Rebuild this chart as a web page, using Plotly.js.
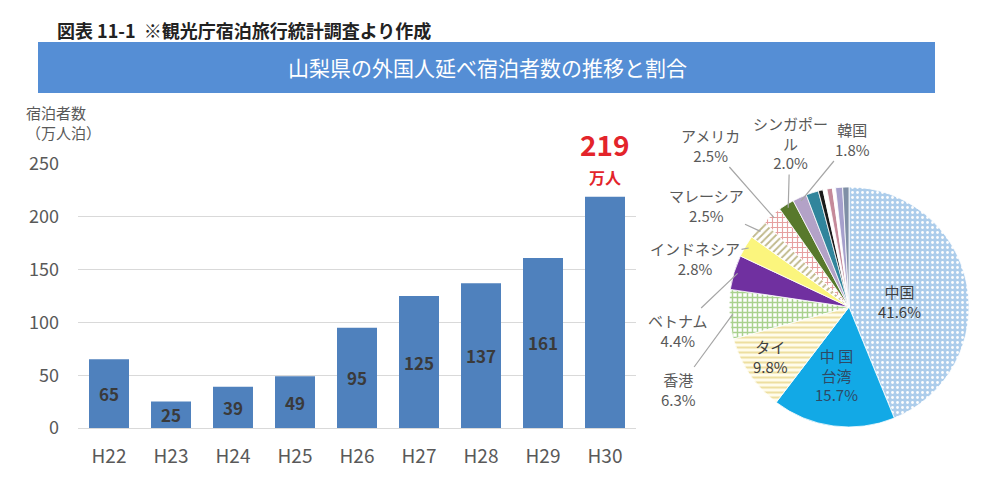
<!DOCTYPE html>
<html><head><meta charset="utf-8">
<script src="https://cdn.plot.ly/plotly-3.0.1.min.js"></script>
<style>html,body{margin:0;padding:0;background:#fff}#chart{width:1000px;height:479px}</style>
</head><body><div id="chart"></div>
<script>
// ---- data ----
const years = ['H22','H23','H24','H25','H26','H27','H28','H29','H30'];
const guests = [65,25,39,49,95,125,137,161,219];

const countries = ['中国','中国台湾','タイ','香港','ベトナム','インドネシア','マレーシア','アメリカ','シンガポール','韓国','その他a','その他b','その他c','その他d','その他e','その他f','その他g'];
const shares = [41.6,15.7,9.8,6.3,4.4,2.8,2.5,2.5,2.0,1.8,1.6,0.6,0.5,0.7,0.4,0.9,0.8];
const displayNames = ['中国','中 国<br>台湾','タイ','香港','ベトナム','インドネシア','マレーシア','アメリカ','シンガポー<br>ル','韓国'];

// ---- layout constants ----
const W = 1000, H = 479;
const FONT = '"Noto Sans CJK JP", "Noto Sans", sans-serif';
const PIE_CX = 849, PIE_CY = 307, PIE_R = 120;
const px2x = p => p / W, px2y = p => 1 - p / H;

const sliceColors = ['#ADCDEB','#12A9E6','#FFFCEB','#FFFFFF','#7030A0','#FBF57D','#FFFFFF','#FFFFFF','#58792C','#B3A2C7','#31859C','#1A1A1A','#FFFFFF','#C58A9A','#FFFFFF','#A6A0CC','#7F8FA6'];
const patShapes = ['.','','-','+','','','/','+','','','','','','','','',''];
const patFg = ['#FFFFFF','','#EDDFA0','#A9D18E','','','#BFB88A','#E6A0A0','','','','','','','','',''];
const patSolidity = [0.25,0.3,0.4,0.5,0.3,0.3,0.35,0.4,0.3,0.3,0.3,0.3,0.3,0.3,0.3,0.3,0.3];

const barTrace = {
  type:'bar', x: years, y: guests,
  marker:{color:'#4F81BD'},
  text: guests.map((v,i)=> i===guests.length-1 ? '' : '<b>'+v+'</b>'),
  textposition:'inside', insidetextanchor:'middle', textangle:0, constraintext:'none',
  textfont:{family:FONT, size:17, color:'#3A3A3A'},
  xaxis:'x', yaxis:'y', hoverinfo:'skip', cliponaxis:false
};

const pieTrace = {
  type:'pie', labels: countries, values: shares, sort:false, direction:'clockwise', rotation:0,
  textinfo:'none', hoverinfo:'skip', showlegend:false,
  marker:{colors: sliceColors, line:{color:'#FFFFFF', width:0.8},
    pattern:{shape: patShapes, fgcolor: patFg, bgcolor: sliceColors, size:5, solidity: patSolidity}},
  domain:{x:[px2x(PIE_CX-PIE_R), px2x(PIE_CX+PIE_R)], y:[px2y(PIE_CY+PIE_R), px2y(PIE_CY-PIE_R)]}
};

const annotations = [];
// header
annotations.push({xref:'paper', yref:'paper', x:px2x(55), y:px2y(30), xanchor:'left', yanchor:'middle', showarrow:false,
  text:'<b>図表 11-1</b>  <b>※観光庁宿泊旅行統計調査より作成</b>', font:{family:FONT, size:18, color:'#222'}});
annotations.push({xref:'paper', yref:'paper', x:px2x(487), y:px2y(67), xanchor:'center', yanchor:'middle', showarrow:false,
  text:'山梨県の外国人延べ宿泊者数の推移と割合', font:{family:FONT, size:21, color:'#FFFFFF'}});
// y axis title
annotations.push({xref:'paper', yref:'paper', x:px2x(24), y:px2y(100), xanchor:'left', yanchor:'top', showarrow:false, align:'left',
  text:'宿泊者数<br>（万人泊）', font:{family:FONT, size:15, color:'#595959'}});
// last bar label
const last = guests.length-1;
annotations.push({xref:'x', yref:'y', x: years[last], y: guests[last], xanchor:'center', yanchor:'bottom', yshift:6, showarrow:false,
  text:'<b>万人</b>', font:{family:FONT, size:16, color:'#E3242B'}});
annotations.push({xref:'x', yref:'y', x: years[last], y: guests[last], xanchor:'center', yanchor:'bottom', yshift:31, showarrow:false,
  text:'<b>'+guests[last]+'</b>', font:{family:FONT, size:28, color:'#E3242B'}});

// pie labels
const total = shares.reduce((a,b)=>a+b,0);
let cum = 0;
const midAngles = shares.map(v => { const m = (cum + v/2)/total*360; cum += v; return m; });
const insideLabels = {0:[899,301,'#404040'], 1:[836,375,'#2E4A66'], 2:[770,356,'#404040']};
const outsideLabels = {3:[678,389], 4:[678,330], 5:[695,258], 6:[706,206], 7:[710,145], 8:[790,143], 9:[852,139]};
for (let i = 0; i < displayNames.length; i++) {
  const txt = displayNames[i] + '<br>' + shares[i].toFixed(1) + '%';
  if (insideLabels[i]) {
    const [lx, ly, c] = insideLabels[i];
    annotations.push({xref:'paper', yref:'paper', x:px2x(lx), y:px2y(ly), xanchor:'center', yanchor:'middle', showarrow:false, text:txt,
      font:{family:FONT, size:15, color:c}});
  } else {
    const [lx, ly] = outsideLabels[i];
    const th = midAngles[i] * Math.PI/180;
    const tx = PIE_CX + PIE_R*0.97*Math.sin(th), ty = PIE_CY - PIE_R*0.97*Math.cos(th);
    annotations.push({xref:'paper', yref:'paper', x:px2x(tx), y:px2y(ty), ax: lx-tx, ay: ly-ty,
      showarrow:true, arrowhead:0, arrowwidth:1.2, arrowcolor:'#A6A6A6', text:txt,
      font:{family:FONT, size:15, color:'#595959'}});
  }
}

const layout = {
  width:W, height:H, margin:{l:0,r:0,t:0,b:0}, paper_bgcolor:'#fff', plot_bgcolor:'#fff',
  showlegend:false, bargap:0.355,
  font:{family:FONT},
  xaxis:{domain:[px2x(78), px2x(636)], type:'category', showline:false, showgrid:false, zeroline:false,
    tickfont:{family:FONT, size:19, color:'#595959'}, ticklabelstandoff:15, ticks:''},
  yaxis:{domain:[px2y(428), px2y(164)], range:[0,250], dtick:50, showgrid:true, gridcolor:'#D9D9D9', gridwidth:1,
    zeroline:true, zerolinecolor:'#D9D9D9', zerolinewidth:1, showline:false,
    tickfont:{family:FONT, size:18, color:'#595959'}, ticklabelstandoff:18, ticks:''},
  shapes:[{type:'rect', xref:'paper', yref:'paper', x0:px2x(38), x1:px2x(935), y0:px2y(93), y1:px2y(42),
    fillcolor:'#558ED5', line:{width:0}, layer:'below'}],
  annotations: annotations
};

Plotly.newPlot('chart', [barTrace, pieTrace], layout, {staticPlot:true, displayModeBar:false});
</script></body></html>
